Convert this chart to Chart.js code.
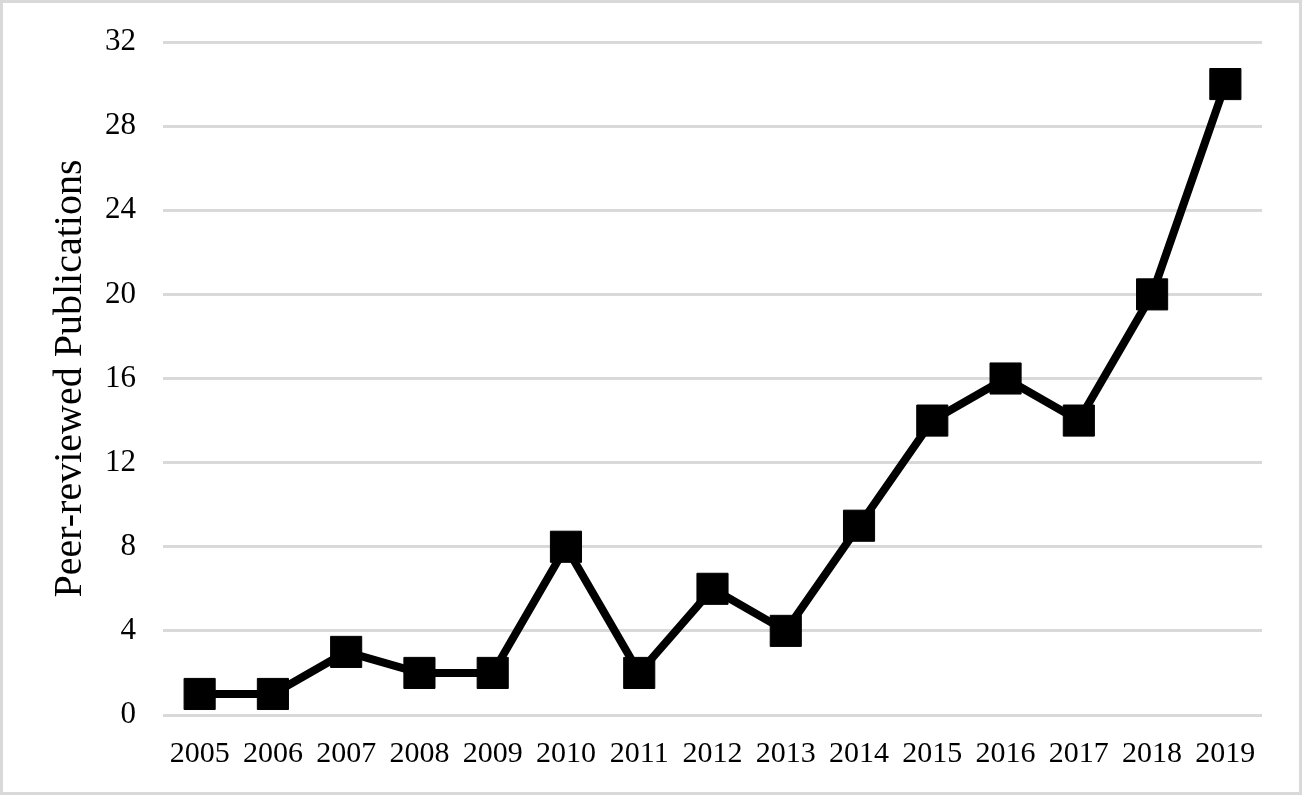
<!DOCTYPE html>
<html>
<head>
<meta charset="utf-8">
<script src="https://cdn.jsdelivr.net/npm/chart.js@4/dist/chart.umd.min.js"></script>
<style>
  html, body { margin: 0; padding: 0; background: #fff; }
  #frame {
    width: 1302px; height: 795px;
    box-sizing: border-box;
    border: 3px solid #d9d9d9;
    background: #fff;
  }
  #pubChart { display: block; }
</style>
</head>
<body>
<div id="frame">
  <canvas id="pubChart" width="1296" height="789"></canvas>
</div>
<script>
var years = ['2005', '2006', '2007', '2008', '2009', '2010', '2011', '2012',
             '2013', '2014', '2015', '2016', '2017', '2018', '2019'];
var publications = [1, 1, 3, 2, 2, 8, 2, 6, 4, 9, 14, 16, 14, 20, 30];
var yTicks = [0, 4, 8, 12, 16, 20, 24, 28, 32];

var serif = '"Liberation Serif", "Times New Roman", serif';

var ctx = document.getElementById('pubChart').getContext('2d');

new Chart(ctx, {
    type: 'line',
    data: {
        labels: years,
        datasets: [{
            label: 'Peer-reviewed Publications',
            data: publications,
            borderColor: '#000',
            backgroundColor: '#000',
            borderWidth: 8,
            borderJoinStyle: 'round',
            borderCapStyle: 'round',
            fill: false,
            tension: 0,
            clip: false,
            pointStyle: 'rect',
            pointRadius: 22,
            pointHoverRadius: 22,
            pointBorderWidth: 1,
            pointBackgroundColor: '#000',
            pointBorderColor: '#000'
        }]
    },
    options: {
        responsive: false,
        animation: false,
        events: [],
        layout: {
            autoPadding: false,
            padding: { left: 0, right: 37, top: 39, bottom: 0 }
        },
        plugins: {
            legend: { display: false },
            tooltip: { enabled: false }
        },
        scales: {
            x: {
                offset: true,
                grid: { display: false },
                border: { display: false },
                ticks: {
                    color: '#000',
                    padding: 13,
                    maxRotation: 0,
                    autoSkip: false,
                    font: { family: serif, size: 30 }
                },
                afterFit: function(scale) { scale.height = 77; }
            },
            y: {
                min: 0,
                max: 32,
                afterBuildTicks: function(scale) {
                    scale.ticks = yTicks.map(function(v) { return { value: v }; });
                },
                grid: {
                    color: '#d9d9d9',
                    lineWidth: 3,
                    drawTicks: true,
                    tickLength: 27,
                    tickColor: 'rgba(0,0,0,0)'
                },
                border: { display: false },
                ticks: {
                    color: '#000',
                    padding: 0,
                    font: { family: serif, size: 31 }
                },
                title: {
                    display: true,
                    text: 'Peer-reviewed Publications',
                    color: '#000',
                    font: { family: serif, size: 40 },
                    padding: { top: 43, bottom: 0 }
                },
                afterFit: function(scale) { scale.width = 160; }
            }
        }
    }
});
</script>
</body>
</html>
